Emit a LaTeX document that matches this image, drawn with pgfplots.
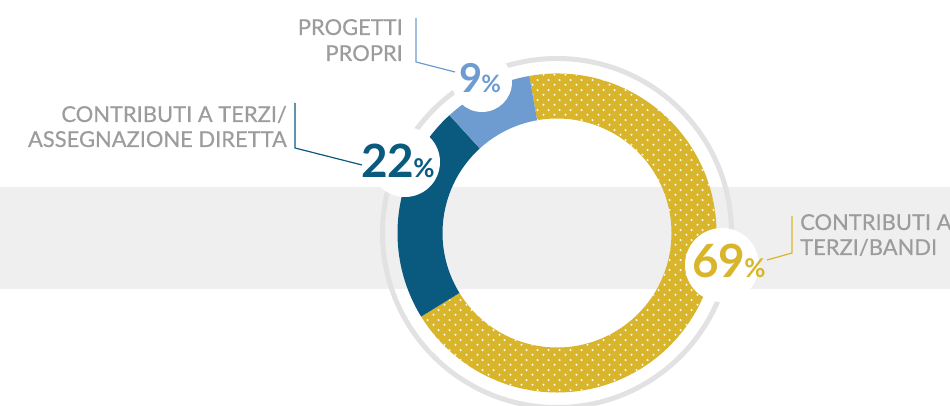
\documentclass[border=0pt]{standalone}
\usepackage{pgfplots}
\pgfplotsset{compat=1.18}
\usepackage{pgfplotstable}
\usepackage{fontspec}
\setmainfont{Lato}
\newfontfamily\labelfont{Lato}[FakeBold=0.4]
\usetikzlibrary{patterns.meta}
\definecolor{cyel}{HTML}{D8B52A}
\definecolor{cdark}{HTML}{0A5A80}
\definecolor{clight}{HTML}{6E9CD1}
\definecolor{ctext}{HTML}{9C9C9C}
\definecolor{cband}{HTML}{EFEFEF}
\definecolor{cring}{HTML}{E2E2E2}
\tikzdeclarepattern{
  name=whitedots,
  type=uncolored,
  bounding box={(0,0) and (10.5bp,9.6bp)},
  tile size={(10.5bp,9.6bp)},
  code={
    \fill (2.625bp,2.4bp) circle[radius=1.2bp];
    \fill (7.875bp,7.2bp) circle[radius=1.2bp];
  }
}
\pgfplotstableread{
share value
bandi 69
diretta 22
propri 9
}\sharetable
\newcommand\sector[3]{%
  \fill[#1] (557,173) ++(#2:159.5bp) arc[start angle=#2, end angle=#3, radius=159.5bp]
    -- ([shift={(#3:114.5bp)}]557,173) arc[start angle=#3, end angle=#2, radius=114.5bp] -- cycle;}
\begin{document}
\begin{tikzpicture}
\pgfplotstablegetelem{0}{value}\of\sharetable \let\vA\pgfplotsretval
\pgfplotstablegetelem{1}{value}\of\sharetable \let\vB\pgfplotsretval
\pgfplotstablegetelem{2}{value}\of\sharetable \let\vC\pgfplotsretval
\pgfmathsetmacro\aA{100}
\pgfmathsetmacro\aB{\aA-3.6*\vA}
\pgfmathsetmacro\aC{\aB-3.6*\vB}
\pgfmathsetmacro\aD{\aC-3.6*\vC}
\begin{axis}[at={(0,0)}, anchor=south west, scale only axis,
  width=950bp, height=406bp, xmin=0, xmax=950, ymin=0, ymax=406,
  axis lines=none, clip=true]
  % background band
  \addplot[draw=none, fill=cband] coordinates {(0,117) (950,117) (950,219) (0,219)} -- cycle;
  % outer grey ring
  \draw[cring, line width=5bp] (557,173) circle[radius=174.5bp];
  % donut sectors
  \sector{cyel}{\aA}{\aB}
  \sector{pattern={whitedots}, pattern color=white!92!cyel}{\aA}{\aB}
  \sector{cdark}{\aB}{\aC}
  \sector{clight}{\aC}{\aD}
  % white discs behind numbers
  \fill[white] (482,324) circle[radius=30bp];
  \fill[white] (405,244) circle[radius=35bp];
  \fill[white] (722,141) circle[radius=37bp];
  % leader lines
  \addplot[clight, line width=1.2bp, mark=none] coordinates {(416,388) (416,344) (455,334)};
  \addplot[cdark, line width=1.2bp, mark=none] coordinates {(295,303) (295,258) (362,241)};
  \addplot[cyel, line width=1.2bp, mark=none] coordinates {(792,190) (792,153) (767,146)};
  % category labels
  \begin{scope}[every node/.style={inner sep=0pt, text=ctext, font=\labelfont\fontsize{22}{22}\selectfont}]
    \node[anchor=base east] at (403,371) {PROGETTI};
    \node[anchor=base east] at (403,345) {PROPRI};
    \node[anchor=base east] at (287,284) {CONTRIBUTI A TERZI/};
    \node[anchor=base east] at (287,259) {ASSEGNAZIONE DIRETTA};
    \node[anchor=base west] at (800,176) {CONTRIBUTI A};
    \node[anchor=base west] at (800,151) {TERZI/BANDI};
  \end{scope}
  % percentages
  \node[anchor=base west, inner sep=0pt, text=clight, font=\bfseries\fontsize{40}{40}\selectfont] at (459,313) {\vC\kern-1bp{\fontsize{24}{24}\selectfont\%}};
  \node[anchor=base west, inner sep=0pt, text=cdark, font=\bfseries\fontsize{46}{46}\selectfont] at (361,228) {\vB\kern-1bp{\fontsize{26}{26}\selectfont\%}};
  \node[anchor=base west, inner sep=0pt, text=cyel, font=\bfseries\fontsize{46}{46}\selectfont] at (692,128) {\vA\kern-1bp{\fontsize{26}{26}\selectfont\%}};
\end{axis}
\pgfresetboundingbox
\useasboundingbox (0,0) rectangle (950bp,406bp);
\end{tikzpicture}
\end{document}
